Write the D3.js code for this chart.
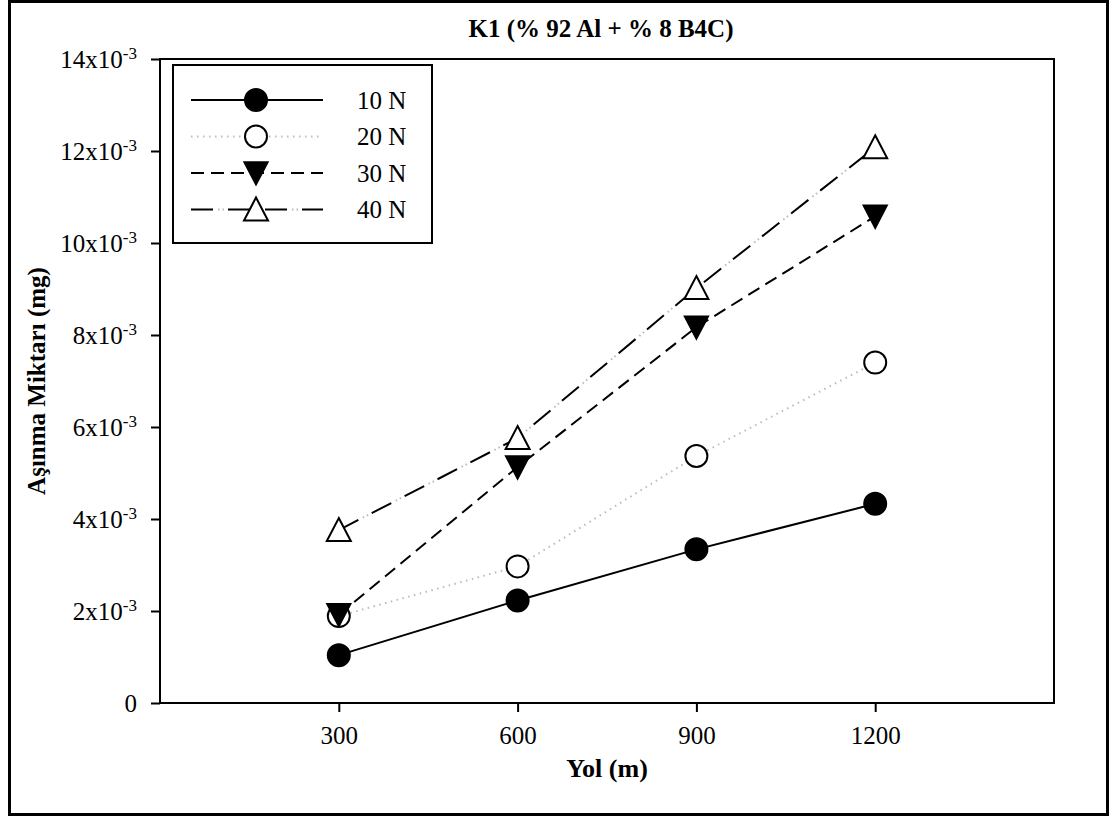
<!DOCTYPE html>
<html>
<head>
<meta charset="utf-8">
<script src="https://cdn.jsdelivr.net/npm/d3@7"></script>
<style>
  html, body { margin: 0; padding: 0; background: #fff; }
  svg { display: block; }
  text { font-family: "Liberation Serif", "Times New Roman", serif; fill: #000; }
</style>
</head>
<body>
<svg id="chart" width="1115" height="818"></svg>
<script>
// Wear amount vs. sliding distance for K1 composite
const distances = [300, 600, 900, 1200];
const xTicks = [300, 600, 900, 1200];
const yTicks = [0, 2e-3, 4e-3, 6e-3, 8e-3, 10e-3, 12e-3, 14e-3];
const wear10N = [1.04e-3, 2.23e-3, 3.34e-3, 4.33e-3];
const wear20N = [1.89e-3, 2.97e-3, 5.37e-3, 7.40e-3];
const wear30N = [1.92e-3, 5.13e-3, 8.17e-3, 10.58e-3];
const wear40N = [3.76e-3, 5.76e-3, 9.02e-3, 12.08e-3];
const seriesNames = ["10 N", "20 N", "30 N", "40 N"];
const titleText = "K1 (% 92 Al + % 8 B4C)";
const xLabel = "Yol (m)";
const yLabel = "Aşınma Miktarı (mg)";

// each series: marker type, fill, and stroke layers (colour + dash pattern)
const series = [
  { name: seriesNames[0], values: wear10N, marker: "circle", fill: "#000",
    strokes: [{ color: "#000", dash: null }] },
  { name: seriesNames[1], values: wear20N, marker: "circle", fill: "#fff",
    strokes: [{ color: "#bbb", dash: "1.5,4.5" }] },
  { name: seriesNames[2], values: wear30N, marker: "down", fill: "#000",
    strokes: [{ color: "#000", dash: "13,7" }] },
  { name: seriesNames[3], values: wear40N, marker: "up", fill: "#fff",
    strokes: [{ color: "#000", dash: "22,15" }, { color: "#bbb", dash: "0,27,1.5,3,1.5,4" }] }
];

const svg = d3.select("#chart");

// outer frame
svg.append("rect").attr("x", 9.5).attr("y", 1.5).attr("width", 1098).attr("height", 813)
  .attr("fill", "none").attr("stroke", "#000").attr("stroke-width", 3);

const plot = { left: 160, top: 59, right: 1054, bottom: 703 };
const x = d3.scaleLinear().domain([0, 1500]).range([plot.left, plot.right]);
const y = d3.scaleLinear().domain([0, 14e-3]).range([plot.bottom, plot.top]);

// plot frame
svg.append("rect").attr("x", plot.left).attr("y", plot.top)
  .attr("width", plot.right - plot.left).attr("height", plot.bottom - plot.top)
  .attr("fill", "none").attr("stroke", "#000").attr("stroke-width", 2);

// axes
const xAxis = svg.append("g").attr("transform", `translate(0,${plot.bottom})`)
  .call(d3.axisBottom(x).tickValues(xTicks).tickSize(9).tickPadding(14).tickFormat(d3.format("d")));
const yAxis = svg.append("g").attr("transform", `translate(${plot.left},0)`)
  .call(d3.axisLeft(y).tickValues(yTicks).tickSize(9).tickPadding(14).tickFormat(() => ""));
[xAxis, yAxis].forEach(g => {
  g.select(".domain").remove();
  g.selectAll(".tick line").attr("stroke", "#000").attr("stroke-width", 2);
  g.selectAll("text").attr("font-size", 25).attr("font-family", "Liberation Serif");
});
xAxis.selectAll("text").attr("fill", "#000");

// y tick labels in "Nx10^-3" form
yAxis.selectAll(".tick").each(function(d) {
  const t = d3.select(this).select("text").attr("fill", "#000").attr("dy", "0.35em");
  const m = Math.round(d * 1000);
  if (m === 0) { t.text("0"); return; }
  t.text(null);
  t.append("tspan").text(m + "x10");
  t.append("tspan").attr("font-size", 17).attr("dy", "-0.55em").text("-3");
});

function drawStrokes(sel, s) {
  s.strokes.forEach(st => {
    const p = sel();
    p.attr("fill", "none").attr("stroke", st.color).attr("stroke-width", 2);
    if (st.dash) p.attr("stroke-dasharray", st.dash);
  });
}

// lines
const line = d3.line().x((d, i) => x(distances[i])).y(d => y(d));
const layer = svg.append("g");
series.forEach(s => {
  drawStrokes(() => layer.append("path").datum(s.values).attr("d", line), s);
});

function drawMarker(g, type, cx, cy, fill) {
  if (type === "circle") {
    g.append("circle").attr("cx", cx).attr("cy", cy).attr("r", 11)
      .attr("fill", fill).attr("stroke", "#000").attr("stroke-width", 2);
  } else if (type === "down") {
    g.append("path").attr("d", `M${cx - 12},${cy - 11}L${cx + 12},${cy - 11}L${cx},${cy + 12}Z`)
      .attr("fill", fill).attr("stroke", "#000").attr("stroke-width", 1.5);
  } else {
    g.append("path").attr("d", `M${cx},${cy - 12}L${cx + 12},${cy + 11}L${cx - 12},${cy + 11}Z`)
      .attr("fill", fill).attr("stroke", "#000").attr("stroke-width", 2);
  }
}

const markers = svg.append("g");
series.forEach(s => {
  s.values.forEach((v, i) => drawMarker(markers, s.marker, x(distances[i]), y(v), s.fill));
});

// legend
const lg = svg.append("g");
lg.append("rect").attr("x", 173).attr("y", 65).attr("width", 259).attr("height", 178)
  .attr("fill", "#fff").attr("stroke", "#000").attr("stroke-width", 2);
series.forEach((s, i) => {
  const yy = 100 + i * 36.5;
  drawStrokes(() => lg.append("line").attr("x1", 191).attr("x2", 323).attr("y1", yy).attr("y2", yy), s);
  drawMarker(lg, s.marker, 256, yy, s.fill);
  lg.append("text").attr("x", 357).attr("y", yy).attr("dy", "0.35em")
    .attr("font-size", 25).text(s.name);
});

// titles
svg.append("text").attr("x", 601).attr("y", 37).attr("text-anchor", "middle")
  .attr("font-size", 25).attr("font-weight", "bold").text(titleText);
svg.append("text").attr("x", 607).attr("y", 777).attr("text-anchor", "middle")
  .attr("font-size", 26).attr("font-weight", "bold").text(xLabel);
svg.append("text").attr("transform", `translate(45,381) rotate(-90)`).attr("text-anchor", "middle")
  .attr("font-size", 25).attr("font-weight", "bold").text(yLabel);
</script>
</body>
</html>
